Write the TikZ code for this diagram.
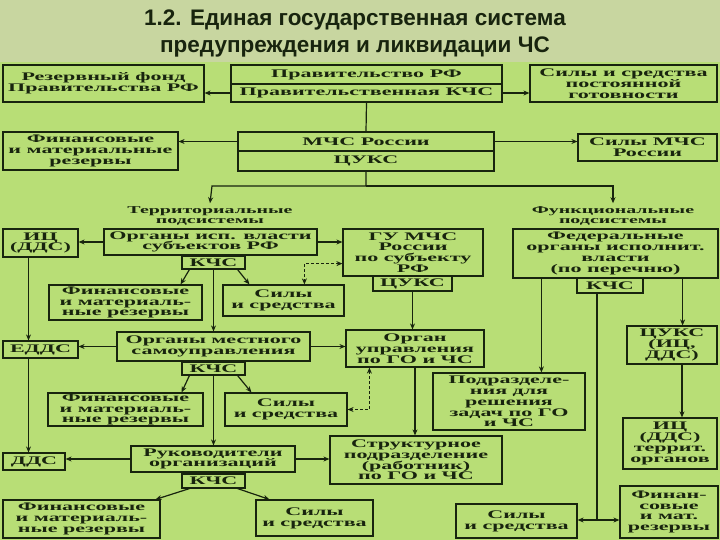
\documentclass[tikz,border=0pt]{standalone}
\usepackage{fontspec}
\setmainfont{Liberation Serif}
\newfontfamily\bxf{Liberation Serif}[FakeStretch=1.9]
\newfontfamily\ttlf{Liberation Sans}
\usetikzlibrary{arrows.meta}
\definecolor{bg}{RGB}{184,222,118}
\definecolor{tbg}{RGB}{200,214,160}
\definecolor{ink}{RGB}{24,36,14}
\tikzset{
  box/.style={draw=ink, line width=1.2pt, inner sep=0pt, align=center, text=ink,
    font=\bxf\bfseries\fontsize{11.6}{10.8}\selectfont},
  lbl/.style={align=center, text=ink, font=\bxf\bfseries\fontsize{10.5}{9.8}\selectfont},
  ln/.style={draw=ink, line width=1.2pt},
  arr/.style={ln, -{Stealth[length=6pt,width=5pt]}},
  darr/.style={ln, line width=1pt, dashed, dash pattern=on 3pt off 2pt, {Stealth[length=6pt,width=5pt]}-{Stealth[length=6pt,width=5pt]}}
}
\newcommand{\bx}[6]{%
  \pgfmathsetmacro\bxw{#4-#2}\pgfmathsetmacro\bxh{#5-#3}%
  \pgfmathsetmacro\bxcx{(#4+#2)/2}\pgfmathsetmacro\bxcy{(#5+#3)/2}%
  \node[box, minimum width=\bxw pt, minimum height=\bxh pt] (#1) at (\bxcx,\bxcy) {#6};}
\begin{document}
\begin{tikzpicture}[x=1pt,y=-1pt]
\useasboundingbox (0,0) rectangle (720,540);
\fill[bg] (0,0) rectangle (720,540);
\fill[tbg] (0,0) rectangle (720,62);
\node[text=ink, align=center, font=\ttlf\bfseries\fontsize{22.5}{27}\selectfont] (title) at (355,33) {1.2. Единая государственная система\\предупреждения и ликвидации ЧС};

\bx{rf}{3}{65}{204}{102}{Резервный фонд\\Правительства РФ}
\bx{gov1}{231}{65}{502}{84}{Правительство РФ}
\bx{gov2}{231}{84}{502}{102}{Правительственная КЧС}
\bx{spg}{530}{65}{717}{102}{Силы и средства\\постоянной\\готовности}
\bx{fin1}{3}{132}{178}{170}{Финансовые\\и материальные\\резервы}
\bx{mchs1}{238}{132}{494}{151}{МЧС России}
\bx{mchs2}{238}{151}{494}{171}{ЦУКС}
\bx{smchs}{578}{134}{717}{161}{Силы МЧС\\России}
\node[lbl] (terr) at (210,216) {Территориальные\\подсистемы};
\node[lbl] (func) at (613,216) {Функциональные\\подсистемы};
\bx{ic}{3}{229}{78}{257}{ИЦ\\(ДДС)}
\bx{oiv}{104}{229}{317}{255}{Органы исп. власти\\субъектов РФ}
\bx{kchs1}{182}{256}{245}{269}{КЧС}
\bx{gu}{343}{229}{483}{276}{ГУ МЧС\\России\\по субъекту\\РФ}
\bx{tsuks}{373}{276}{452}{291}{ЦУКС}
\bx{fed}{513}{229}{718}{278}{Федеральные\\органы исполнит.\\власти\\(по перечню)}
\bx{kchs4}{577}{278}{643}{293}{КЧС}
\bx{fin2}{49}{285}{202}{320}{Финансовые\\и материаль-\\ные резервы}
\bx{sil1}{223}{285}{344}{316}{Силы\\и средства}
\bx{edds}{3}{341}{78}{358}{ЕДДС}
\bx{oms}{117}{332}{310}{361}{Органы местного\\самоуправления}
\bx{kchs2}{182}{362}{245}{375}{КЧС}
\bx{ou}{346}{330}{484}{367}{Орган\\управления\\по ГО и ЧС}
\bx{tsuks2}{627}{326}{717}{364}{ЦУКС\\(ИЦ,\\ДДС)}
\bx{fin3}{48}{393}{203}{426}{Финансовые\\и материаль-\\ные резервы}
\bx{sil2}{225}{393}{347}{426}{Силы\\и средства}
\bx{pod}{433}{373}{585}{430}{Подразделе-\\ния для\\решения\\задач по ГО\\и ЧС}
\bx{icter}{623}{418}{717}{469}{ИЦ\\(ДДС)\\террит.\\органов}
\bx{dds}{3}{453}{65}{470}{ДДС}
\bx{ruk}{131}{446}{295}{472}{Руководители\\организаций}
\bx{kchs3}{182}{474}{245}{488}{КЧС}
\bx{str}{330}{436}{502}{484}{Структурное\\подразделение\\(работник)\\по ГО и ЧС}
\bx{fin4}{3}{500}{160}{538}{Финансовые\\и материаль-\\ные резервы}
\bx{sil3}{256}{500}{373}{536}{Силы\\и средства}
\bx{sil4}{456}{504}{577}{538}{Силы\\и средства}
\bx{finm}{620}{486}{718}{538}{Финан-\\совые\\и мат.\\резервы}

\draw[arr] (gov2.west) -- (gov2.west -| rf.east);
\draw[arr] (gov2.east) -- (gov2.east -| spg.west);
\draw[ln] (gov2.south) -- (mchs1.north);
\draw[arr] (mchs1.west) -- (mchs1.west -| fin1.east);
\draw[arr] (mchs1.east) -- (mchs1.east -| smchs.west);
\coordinate (busL) at (212,186);
\coordinate (busR) at (613,186);
\draw[arr] (mchs2.south) |- (busL) -- (terr.north);
\draw[arr] (busL -| mchs2.south) -- (busR) -- (func.north);

\draw[arr] (oiv.west) -- (oiv.west -| ic.east);
\draw[arr] (oiv.east) -- (oiv.east -| gu.west);
\draw[arr] ([xshift=-12pt]ic.south) -- ([xshift=-12pt]ic.south |- edds.north);
\draw[arr] ([xshift=-12pt]edds.south) -- ([xshift=-12pt]edds.south |- dds.north);
\draw[arr] ([xshift=8pt]kchs1.south west) -- ([xshift=-22pt]fin2.north east);
\draw[arr] ([xshift=-8pt]kchs1.south east) -- ([xshift=27pt]sil1.north west);
\draw[arr] (kchs1.south) -- (kchs1.south |- oms.north);
\draw[darr] ([yshift=13pt]gu.south west) -| ([xshift=82pt]sil1.north west);
\draw[arr] (tsuks.south) -- (tsuks.south |- ou.north);
\draw[arr] (oms.west) -- (oms.west -| edds.east);
\draw[arr] (oms.east) -- (oms.east -| ou.west);
\draw[arr] ([xshift=8pt]kchs2.south west) -- ([xshift=-22pt]fin3.north east);
\draw[arr] ([xshift=-8pt]kchs2.south east) -- ([xshift=27pt]sil2.north west);
\draw[arr] (kchs2.south) -- (kchs2.south |- ruk.north);
\draw[darr] ([xshift=24pt]ou.south west) |- (sil2.east);
\draw[arr] (ou.south) -- (ou.south |- str.north);
\draw[arr] (ruk.west) -- (ruk.west -| dds.east);
\draw[arr] (ruk.east) -- (ruk.east -| str.west);
\draw[arr] ([xshift=8pt]kchs3.south west) -- ([xshift=-5pt]fin4.north east);
\draw[arr] ([xshift=-8pt]kchs3.south east) -- ([xshift=14pt]sil3.north west);
\draw[arr] ([xshift=29pt]fed.south west) -- ([xshift=29pt]fed.south west |- pod.north);
\coordinate (j) at (597,520);
\draw[ln] ([xshift=-13pt]kchs4.south) -- ([xshift=-13pt]kchs4.south |- j);
\draw[arr] (j) -- (j -| sil4.east);
\draw[arr] (j) -- (j -| finm.west);
\draw[arr] ([xshift=-36pt]fed.south east) -- ([xshift=-36pt]fed.south east |- tsuks2.north);
\draw[arr] ([xshift=10pt]tsuks2.south) -- ([xshift=10pt]tsuks2.south |- icter.north);
\end{tikzpicture}
\end{document}
